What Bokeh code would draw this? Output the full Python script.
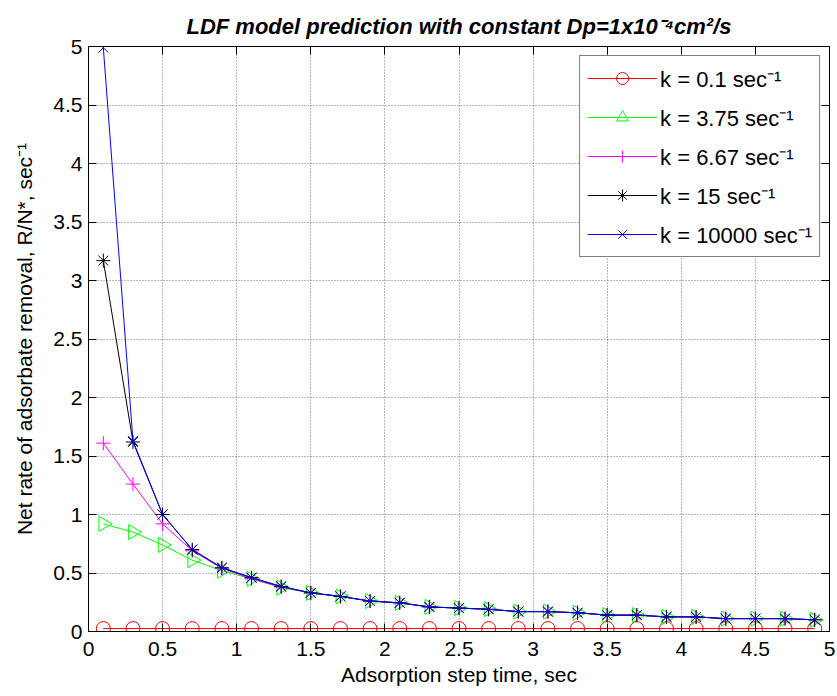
import math
from bokeh.plotting import figure
from bokeh.models import Range1d, LinearAxis, FixedTicker, Legend, LegendItem
from bokeh.embed import file_html
from bokeh.resources import INLINE

# ---- data ----
t = [0.1, 0.3, 0.5, 0.7, 0.9, 1.1, 1.3, 1.5, 1.7, 1.9, 2.1, 2.3, 2.5,
     2.7, 2.9, 3.1, 3.3, 3.5, 3.7, 3.9, 4.1, 4.3, 4.5, 4.7, 4.9]

k_01 = [0.025] * 25
k_375 = [0.92, 0.85, 0.74, 0.61, 0.52, 0.45, 0.375, 0.33, 0.30, 0.26, 0.245, 0.21, 0.20,
         0.19, 0.17, 0.17, 0.16, 0.14, 0.14, 0.125, 0.125, 0.11, 0.11, 0.11, 0.10]
k_667 = [1.61, 1.26, 0.92, 0.69, 0.54, 0.45, 0.38, 0.33, 0.30, 0.26, 0.245, 0.21, 0.20,
         0.19, 0.17, 0.17, 0.16, 0.14, 0.14, 0.125, 0.125, 0.11, 0.11, 0.11, 0.10]
k_15 = [3.17, 1.62, 1.00, 0.70, 0.545, 0.46, 0.385, 0.33, 0.30, 0.26, 0.245, 0.21, 0.20,
        0.19, 0.17, 0.17, 0.16, 0.14, 0.14, 0.125, 0.125, 0.11, 0.11, 0.11, 0.10]
k_1e4 = [4.99, 1.63, 1.00, 0.70, 0.545, 0.46, 0.385, 0.33, 0.30, 0.26, 0.245, 0.21, 0.20,
         0.19, 0.17, 0.17, 0.16, 0.14, 0.14, 0.125, 0.125, 0.11, 0.11, 0.11, 0.10]

labels = ["k = 0.1 sec\u207b\u00b9", "k = 3.75 sec\u207b\u00b9", "k = 6.67 sec\u207b\u00b9",
          "k = 15 sec\u207b\u00b9", "k = 10000 sec\u207b\u00b9"]
colors = ["#ff0000", "#00ff00", "#ff00ff", "#000000", "#0000ff"]
markers = ["circle", "triangle", "cross", "asterisk", "x"]
series = [k_01, k_375, k_667, k_15, k_1e4]

ticks = [0, 0.5, 1, 1.5, 2, 2.5, 3, 3.5, 4, 4.5, 5]
tick_labels = ["0", "0.5", "1", "1.5", "2", "2.5", "3", "3.5", "4", "4.5", "5"]

FONT = "Liberation Sans"

p = figure(width=837, height=696, output_backend="svg", toolbar_location=None,
           x_range=Range1d(0, 5), y_range=Range1d(0, 5),
           min_border_left=88, min_border_right=8, min_border_top=46, min_border_bottom=65)

p.title.text = "LDF model prediction with constant Dp=1x10\u207b\u2074cm\u00b2/s"
p.title.align = "center"
p.title.text_font = FONT
p.title.text_font_style = "bold italic"
p.title.text_font_size = "22px"
p.title.text_color = "black"
p.title.standoff = 15

p.outline_line_color = "black"
p.outline_line_width = 1

overrides = {tk: lb for tk, lb in zip(ticks, tick_labels)}

for ax in [p.xaxis[0], p.yaxis[0]]:
    ax.ticker = FixedTicker(ticks=ticks)
    ax.major_label_overrides = overrides
    ax.major_label_text_font = FONT
    ax.major_label_text_font_size = "21px"
    ax.major_label_text_color = "black"
    ax.major_tick_in = 8
    ax.major_tick_out = 0
    ax.major_tick_line_color = "black"
    ax.minor_tick_line_color = None
    ax.axis_label_text_font = FONT
    ax.axis_label_text_font_size = "21px"
    ax.axis_label_text_font_style = "normal"
    ax.axis_label_text_color = "black"
    ax.axis_line_color = "black"

p.xaxis.axis_label = "Adsorption step time, sec"
p.yaxis.axis_label = "Net rate of adsorbate removal, R/N*, sec\u207b\u00b9"
p.xaxis.major_label_standoff = 10
p.yaxis.major_label_standoff = 6
p.xaxis.axis_label_standoff = 4
p.yaxis.axis_label_standoff = 14

for side in ["right", "above"]:
    ax = LinearAxis(ticker=FixedTicker(ticks=ticks))
    ax.major_label_text_font_size = "0px"
    ax.major_label_text_color = None
    ax.major_label_standoff = 0
    ax.major_tick_in = 8
    ax.major_tick_out = 0
    ax.major_tick_line_color = "black"
    ax.minor_tick_line_color = None
    ax.axis_line_color = "black"
    p.add_layout(ax, side)

p.xgrid.ticker = FixedTicker(ticks=ticks)
p.ygrid.ticker = FixedTicker(ticks=ticks)
p.grid.grid_line_color = "#707070"
p.grid.grid_line_dash = "1 2"
p.grid.grid_line_width = 1

items = []
for lab, col, mk, ys in zip(labels, colors, markers, series):
    ln = p.line(t, ys, line_color=col, line_width=1)
    if mk == "triangle":
        sc = p.scatter(t, ys, marker=mk, size=15, line_color=col, fill_color=None,
                       angle=-math.pi / 2, line_width=1)
    else:
        sc = p.scatter(t, ys, marker=mk, size=14, line_color=col, fill_color=None, line_width=1)
    items.append(LegendItem(label=lab, renderers=[ln, sc]))

legend = Legend(items=items, location="top_right")
legend.label_text_font = FONT
legend.label_text_font_size = "22px"
legend.label_text_color = "black"
legend.border_line_color = "black"
legend.border_line_width = 1
legend.background_fill_alpha = 1
legend.glyph_width = 70
legend.glyph_height = 30
legend.label_height = 30
legend.spacing = 9
legend.padding = 7
legend.margin = 9
legend.label_standoff = 3
p.add_layout(legend)

open("out.html", "w").write(file_html(p, INLINE))
